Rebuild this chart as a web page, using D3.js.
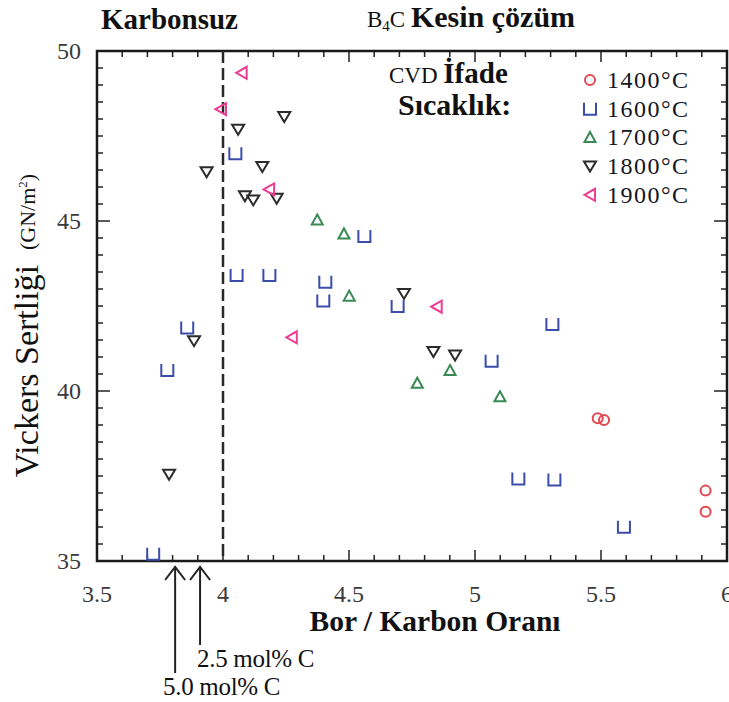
<!DOCTYPE html>
<html><head><meta charset="utf-8">
<script src="https://cdn.jsdelivr.net/npm/d3@7"></script>
<style>body{margin:0;background:#fff}svg{display:block}text{font-family:"Liberation Serif","Times New Roman",serif}.bd{font-weight:bold}</style>
</head><body><svg id="c" width="729" height="702"></svg>
<script>
const temps = ["1400°C","1600°C","1700°C","1800°C","1900°C"];
const s1400 = [[5.487,39.20],[5.512,39.15],[5.915,37.07],[5.915,36.45]];
const s1600 = [[3.723,35.21],[3.779,40.62],[3.858,41.87],[4.049,46.99],[4.054,43.41],[4.184,43.41],[4.406,43.21],[4.398,42.66],[4.561,44.56],[4.693,42.50],[5.307,41.97],[5.066,40.89],[5.172,37.43],[5.315,37.40],[5.591,36.01]];
const s1700 = [[4.374,45.03],[4.480,44.62],[4.501,42.79],[4.771,40.23],[4.901,40.60],[5.099,39.83]];
const s1800 = [[4.243,48.07],[4.060,47.70],[3.935,46.45],[4.156,46.60],[4.087,45.74],[4.120,45.62],[4.213,45.67],[3.885,41.48],[3.786,37.55],[4.718,42.87],[4.835,41.16],[4.921,41.06]];
const s1900 = [[4.074,49.36],[3.992,48.29],[4.183,45.93],[4.273,41.58],[4.848,42.48]];
const xTickLabels = [3.5,4,4.5,5,5.5,6];
const yTickLabels = [35,40,45,50];
const dividerX = 4.0;
const arrowX = [3.810, 3.909];
const arrowLabels = ["5.0 mol% C","2.5 mol% C"];

const series = [
  {name:temps[0], data:s1400, shape:"circle", color:"#e5464f"},
  {name:temps[1], data:s1600, shape:"cup", color:"#3c4cab"},
  {name:temps[2], data:s1700, shape:"up", color:"#3a8a55"},
  {name:temps[3], data:s1800, shape:"down", color:"#2b2b2b"},
  {name:temps[4], data:s1900, shape:"left", color:"#ee3b93"}
];

const svg = d3.select("#c");
const L=97, R=727, T=51, B=561;
const x = d3.scaleLinear().domain([3.5,6]).range([L,R]);
const y = d3.scaleLinear().domain([35,50]).range([B,T]);

function shapePath(s){
  switch(s){
    case "cup": return "M-6,-6 L-6,6 L6,6 L6,-6";
    case "up": return "M0,-5.5 L5.5,4.5 L-5.5,4.5 Z";
    case "down": return "M-6,-4.5 L6,-4.5 L0,5.5 Z";
    case "left": return "M-5.5,0 L5,-6 L5,6 Z";
  }
}
function drawMarker(g, s, color){
  if(s==="circle") g.append("circle").attr("r",5).attr("fill","none").attr("stroke",color).attr("stroke-width",2);
  else g.append("path").attr("d",shapePath(s)).attr("fill","none").attr("stroke",color).attr("stroke-width",2).attr("stroke-linejoin","miter");
}

// ticks (inward on all sides)
const axG = svg.append("g").attr("stroke","#222").attr("stroke-width",1.5);
d3.range(35,50.01,0.5).forEach(v=>{
  const major = Math.abs(v-Math.round(v/5)*5)<1e-6;
  const len = major?13:6;
  axG.append("line").attr("x1",L).attr("x2",L+len).attr("y1",y(v)).attr("y2",y(v));
  axG.append("line").attr("x1",R).attr("x2",R-len).attr("y1",y(v)).attr("y2",y(v));
});
d3.range(3.5,6.001,0.1).forEach(v=>{
  const major = Math.abs(v*2-Math.round(v*2))<1e-6;
  const len = major?11:6;
  axG.append("line").attr("x1",x(v)).attr("x2",x(v)).attr("y1",B).attr("y2",B-len);
  axG.append("line").attr("x1",x(v)).attr("x2",x(v)).attr("y1",T).attr("y2",T+len);
});
svg.append("rect").attr("x",L).attr("y",T).attr("width",R-L).attr("height",B-T)
  .attr("fill","none").attr("stroke","#1a1a1a").attr("stroke-width",2.5);

// tick labels
svg.append("g").selectAll("text").data(xTickLabels).join("text")
  .attr("x",d=>x(d)).attr("y",602).attr("text-anchor","middle")
  .attr("font-size",24).attr("fill","#3a3a3a").text(d=>d);
svg.append("g").selectAll("text").data(yTickLabels).join("text")
  .attr("x",81).attr("y",d=>y(d)+8).attr("text-anchor","end")
  .attr("font-size",24).attr("fill","#3a3a3a").text(d=>d);

// divider dashed line
svg.append("line").attr("x1",x(dividerX)).attr("x2",x(dividerX)).attr("y1",T).attr("y2",B)
  .attr("stroke","#2a2a2a").attr("stroke-width",2.5).attr("stroke-dasharray","12,5");

// points
series.forEach(s=>{
  svg.append("g").selectAll("g").data(s.data).join("g")
    .attr("transform",d=>`translate(${x(d[0])},${y(d[1])})`)
    .each(function(){ drawMarker(d3.select(this), s.shape, s.color); });
});

// legend
const lg = svg.append("g");
series.forEach((s,i)=>{
  const yy = 80 + i*28.7;
  drawMarker(lg.append("g").attr("transform",`translate(590,${yy})`), s.shape, s.color);
  lg.append("text").attr("x",607).attr("y",yy+8).attr("font-size",24).attr("letter-spacing",1.5)
    .attr("fill","#151525").text(s.name);
});
const t1 = svg.append("text").attr("x",389).attr("y",83).attr("fill","#111");
t1.append("tspan").attr("font-size",23).text("CVD ");
t1.append("tspan").attr("class","bd").attr("font-size",29).text("İfade");
svg.append("text").attr("class","bd").attr("x",398).attr("y",115).attr("font-size",30).attr("fill","#111").text("Sıcaklık:");

// top labels
svg.append("text").attr("class","bd").attr("x",101).attr("y",29).attr("font-size",29).attr("fill","#111").text("Karbonsuz");
const t2 = svg.append("text").attr("x",367).attr("y",27).attr("fill","#111");
t2.append("tspan").attr("font-size",23).text("B");
t2.append("tspan").attr("font-size",15).attr("dy",4).text("4");
t2.append("tspan").attr("font-size",23).attr("dy",-4).text("C ");
t2.append("tspan").attr("class","bd").attr("font-size",30).text("Kesin çözüm");

// axis titles
svg.append("text").attr("class","bd").attr("x",435).attr("y",631).attr("text-anchor","middle").attr("font-size",29.5)
  .attr("fill","#111").text("Bor / Karbon Oranı");
svg.append("text").attr("transform","translate(38,371) rotate(-90)").attr("text-anchor","middle")
  .attr("font-size",34).attr("fill","#111").text("Vickers Sertliği");
const yt2 = svg.append("text").attr("transform","translate(35,212) rotate(-90)").attr("text-anchor","middle")
  .attr("font-size",22).attr("fill","#111");
yt2.append("tspan").text("(GN/m");
yt2.append("tspan").attr("font-size",13).attr("dy",-8).text("2");
yt2.append("tspan").attr("dy",8).text(")");

// arrows
const arrowEnds = [673, 645];
const arrowTextPos = [[163,695],[197,667]];
arrowX.forEach((v,i)=>{
  const ax = x(v);
  const g = svg.append("g").attr("stroke","#222").attr("stroke-width",2).attr("fill","none");
  g.append("line").attr("x1",ax).attr("x2",ax).attr("y1",567).attr("y2",arrowEnds[i]);
  g.append("path").attr("d",`M${ax-10},${580} L${ax},${567} L${ax+10},${580}`);
  svg.append("text").attr("x",arrowTextPos[i][0]).attr("y",arrowTextPos[i][1]).attr("font-size",25)
    .attr("letter-spacing",-0.3).attr("fill","#111").text(arrowLabels[i]);
});
</script></body></html>
